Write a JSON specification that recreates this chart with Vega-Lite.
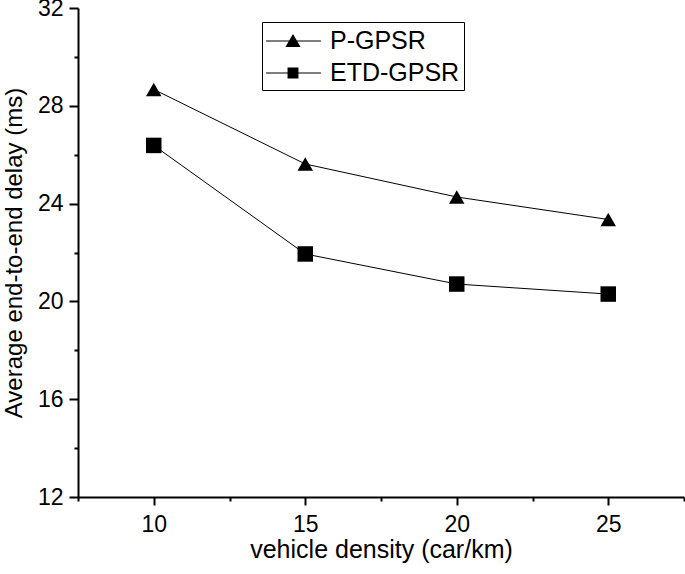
{
  "$schema": "https://vega.github.io/schema/vega-lite/v6.json",
  "width": 606,
  "height": 489,
  "autosize": {"type": "none"},
  "padding": {"left": 78, "top": 8, "right": 1, "bottom": 77},
  "background": "white",
  "config": {
    "view": {"stroke": null},
    "font": "Liberation Sans",
    "axis": {
      "domainColor": "black",
      "domainWidth": 2,
      "tickColor": "black",
      "tickWidth": 2,
      "grid": false,
      "labelColor": "black",
      "titleColor": "black",
      "labelFont": "Liberation Sans",
      "titleFont": "Liberation Sans",
      "titleFontWeight": "normal"
    }
  },
  "data": {
    "values": [
      {"density": 10, "delay": 28.67, "protocol": "P-GPSR"},
      {"density": 15, "delay": 25.62, "protocol": "P-GPSR"},
      {"density": 20, "delay": 24.27, "protocol": "P-GPSR"},
      {"density": 25, "delay": 23.35, "protocol": "P-GPSR"},
      {"density": 10, "delay": 26.38, "protocol": "ETD-GPSR"},
      {"density": 15, "delay": 21.94, "protocol": "ETD-GPSR"},
      {"density": 20, "delay": 20.71, "protocol": "ETD-GPSR"},
      {"density": 25, "delay": 20.30, "protocol": "ETD-GPSR"}
    ]
  },
  "encoding": {
    "x": {
      "field": "density",
      "type": "quantitative",
      "scale": {"domain": [7.5, 27.5], "nice": false, "zero": false},
      "axis": {
        "title": "vehicle density (car/km)",
        "titleFontSize": 25,
        "titlePadding": 1,
        "values": [7.5, 10, 12.5, 15, 17.5, 20, 22.5, 25, 27.5],
        "labelExpr": "datum.value % 5 === 0 ? datum.label : ''",
        "labelFontSize": 23,
        "labelPadding": 8,
        "tickSize": {"condition": {"test": "datum.value % 5 === 0", "value": 8}, "value": 4},
        "labelFlush": false
      }
    },
    "y": {
      "field": "delay",
      "type": "quantitative",
      "scale": {"domain": [12, 32], "nice": false, "zero": false},
      "axis": {
        "title": "Average end-to-end delay (ms)",
        "titleFontSize": 24,
        "titlePadding": 11,
        "values": [12, 14, 16, 18, 20, 22, 24, 26, 28, 30, 32],
        "labelExpr": "datum.value % 4 === 0 ? datum.label : ''",
        "labelFontSize": 23,
        "labelPadding": 6,
        "tickSize": {"condition": {"test": "datum.value % 4 === 0", "value": 9}, "value": 4},
        "labelFlush": false
      }
    }
  },
  "layer": [
    {
      "mark": {"type": "line", "color": "black", "strokeWidth": 1},
      "encoding": {"detail": {"field": "protocol"}}
    },
    {
      "mark": {"type": "point", "filled": true, "color": "black", "opacity": 1},
      "encoding": {
        "shape": {
          "field": "protocol",
          "type": "nominal",
          "scale": {"domain": ["P-GPSR", "ETD-GPSR"], "range": ["triangle-up", "square"]},
          "legend": null
        },
        "size": {"value": 240}
      }
    },
    {
      "transform": [{"filter": "false"}],
      "mark": {"type": "point", "filled": true, "color": "black", "opacity": 1},
      "encoding": {
        "shape": {
          "field": "protocol",
          "type": "nominal",
          "scale": {"domain": ["P-GPSR", "ETD-GPSR"], "range": ["M-1.07,-0.04L2.86,-0.04L2.86,0.04L-1.07,0.04ZM0.857,-0.5L1.4,0.42L0.314,0.42Z", "M-1.07,-0.04L2.86,-0.04L2.86,0.04L-1.07,0.04ZM0.467,-0.4L1.247,-0.4L1.247,0.4L0.467,0.4Z"]},
          "legend": {
            "title": null,
            "orient": "none",
            "legendX": 184,
            "legendY": 14,
            "padding": 4,
            "strokeColor": "black",
            "fillColor": "white",
            "symbolSize": 784,
            "symbolFillColor": "black",
            "labelFontSize": 25,
            "labelColor": "black",
            "labelOffset": 34,
            "rowPadding": 4,
            "labelLimit": 300
          }
        }
      }
    }
  ],
  "resolve": {"scale": {"shape": "independent"}, "legend": {"shape": "independent"}}
}
